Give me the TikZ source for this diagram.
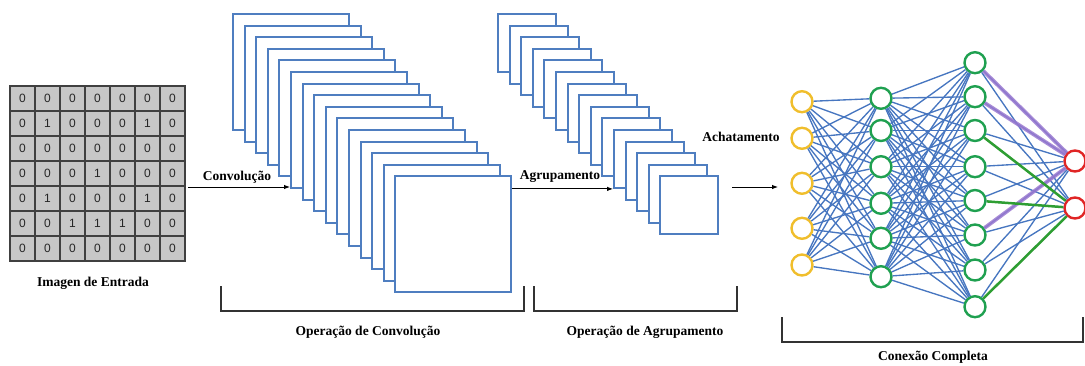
\documentclass[tikz,border=0pt]{standalone}
\usepackage{fontspec}
\setmainfont{Liberation Serif}
\newfontfamily\numfont{Liberation Sans}
\definecolor{rectblue}{HTML}{4F7EC0}
\definecolor{edgeblue}{HTML}{4776C0}
\definecolor{ygold}{HTML}{F0BE2C}
\definecolor{ngreen}{HTML}{1FA050}
\definecolor{nred}{HTML}{E02525}
\definecolor{hpurple}{HTML}{9A78D0}
\definecolor{hgreen}{HTML}{2E9E32}
\begin{document}
\begin{tikzpicture}[x=1pt,y=-1pt,
  cell/.style={draw=black!75,fill=black!22,line width=1.2pt,minimum size=25pt,inner sep=0pt,
    font=\numfont\fontsize{12}{12}\selectfont,text=black!85},
  convbox/.style={draw=rectblue,fill=white,line width=1.9pt,minimum width=116pt,minimum height=116pt,anchor=north west,inner sep=0pt},
  poolbox/.style={draw=rectblue,fill=white,line width=1.9pt,minimum width=58pt,minimum height=58pt,anchor=north west,inner sep=0pt},
  lbl/.style={font=\bfseries\fontsize{13.5}{15}\selectfont,inner sep=0pt},
  arr/.style={draw=black,line width=0.9pt,-{Latex[length=6pt,width=4.5pt]}},
  brk/.style={draw=black!80,line width=1.3pt},
  neuron/.style={circle,draw,fill=white,line width=2.4pt,minimum size=21pt,inner sep=0pt},
  conn/.style={draw=edgeblue,line width=1.35pt},
  hpur/.style={draw=hpurple,line width=3.8pt,opacity=0.85},
  hgrn/.style={draw=hgreen,line width=2.5pt}]
\useasboundingbox (0,0) rectangle (1085,365);
\usetikzlibrary{arrows.meta}
% input grid
\foreach \row [count=\r] in {{0,0,0,0,0,0,0},{0,1,0,0,0,1,0},{0,0,0,0,0,0,0},{0,0,0,1,0,0,0},{0,1,0,0,0,1,0},{0,0,1,1,1,0,0},{0,0,0,0,0,0,0}}{
  \foreach \v [count=\c] in \row {
    \node[cell] (g-\r-\c) at ({10+25*\c-12.5},{86+25*\r-12.5}) {\v};
  }
}
\node[lbl] (limg) at (93,283) {Imagen de Entrada};
% convolution stack
\foreach \k in {1,...,15}{
  \node[convbox] (c\k) at ({232+11.6*(\k-1)},{13+11.6*(\k-1)}) {};
}
% pooling stack
\foreach \k in {1,...,15}{
  \node[poolbox] (p\k) at ({497+11.6*(\k-1)},{13+11.6*(\k-1)}) {};
}
% arrows
\coordinate (a1s) at (188,187);
\draw[arr] (a1s) -- (a1s -| c6.south west);
\node[lbl] (lconv) at (237,177) {Convolução};
\draw[arr] (c15.east |- p11.south west) -- (p11.south west);
\node[lbl] (lagr) at (560,177) {Agrupamento};
\coordinate (a3s) at (732,187);
\coordinate (a3e) at (778,187);
\draw[arr] (a3s) -- (a3e);
\node[lbl] (lach) at (741,137) {Achatamento};
% brackets
\draw[brk] (221,286) |- (524,311) -- (524,286);
\node[lbl] (lopc) at (368,332) {Operação de Convolução};
\draw[brk] (534,286) |- (737,311) -- (737,286);
\node[lbl] (lopa) at (645,332) {Operação de Agrupamento};
\draw[brk] (782,317) |- (1083,342) -- (1083,317);
\node[lbl] (lcc) at (933,357) {Conexão Completa};
% network nodes
\foreach \yy [count=\i] in {101.7,138.3,183.3,228.3,265}{
  \node[neuron,draw=ygold] (y\i) at (802,\yy) {};
}
\foreach \yy [count=\i] in {98.3,130.5,166.7,203.3,238.3,276.7}{
  \node[neuron,draw=ngreen] (h\i) at (881,\yy) {};
}
\foreach \yy [count=\i] in {62.7,96.7,130.5,166.7,200.5,235,270,306.7}{
  \node[neuron,draw=ngreen] (b\i) at (975,\yy) {};
}
\foreach \yy [count=\i] in {161,208}{
  \node[neuron,draw=nred] (r\i) at (1075,\yy) {};
}
% connections
\foreach \i in {1,...,5}{\foreach \j in {1,...,6}{\draw[conn] (y\i) -- (h\j);}}
\foreach \i in {1,...,6}{\foreach \j in {1,...,8}{\draw[conn] (h\i) -- (b\j);}}
\foreach \i in {1,...,8}{\foreach \j in {1,2}{\draw[conn] (b\i) -- (r\j);}}
\draw[hpur] (b1) -- (r1);
\draw[hpur] (b2) -- (r1);
\draw[hpur] (b6) -- (r1);
\draw[hgrn] (b3) -- (r2);
\draw[hgrn] (b5) -- (r2);
\draw[hgrn] (b8) -- (r2);
\end{tikzpicture}
\end{document}
